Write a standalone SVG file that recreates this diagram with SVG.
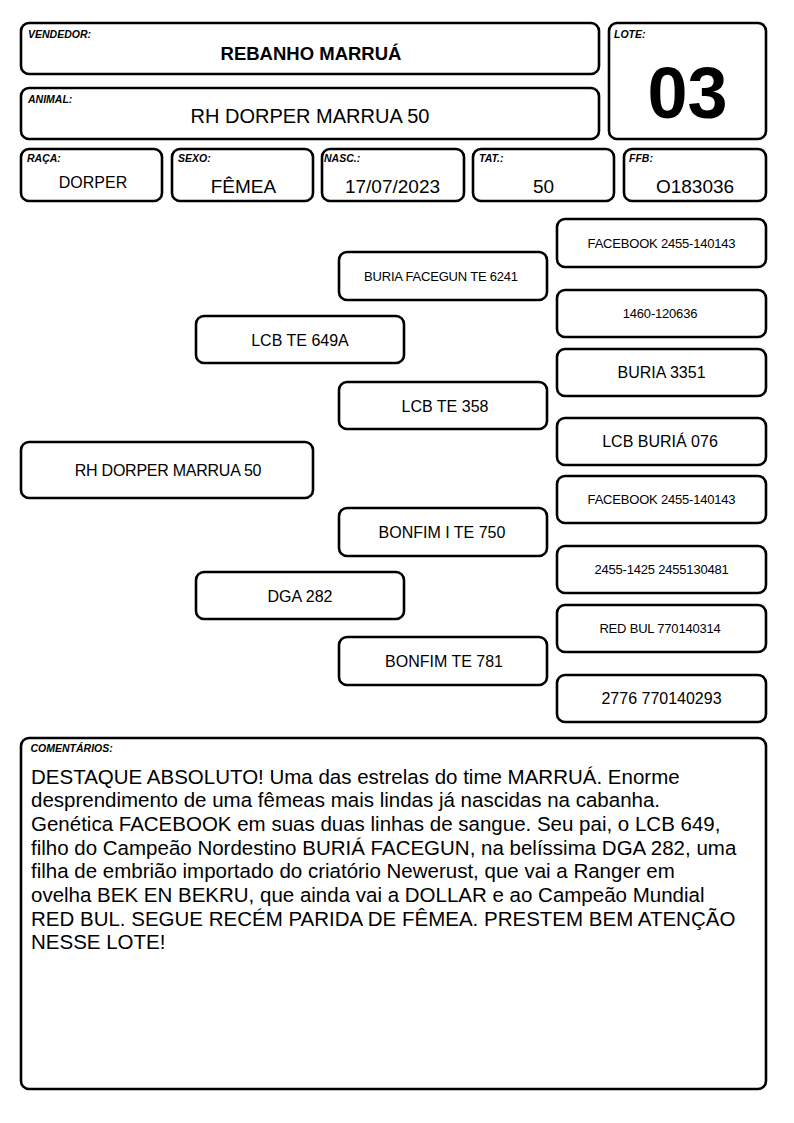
<svg xmlns="http://www.w3.org/2000/svg" width="794" height="1123" viewBox="0 0 794 1123">
<style>
.b{fill:#fff;stroke:#000;stroke-width:2.6}
.lbl{font-family:"Liberation Sans",Arial,sans-serif;font-size:10.5px;font-weight:bold;font-style:italic;fill:#000}
.t{font-family:"Liberation Sans",Arial,sans-serif;fill:#000;text-anchor:middle}
.p16{font-size:16px}
.p13{font-size:13px;letter-spacing:-0.2px}
.v19{font-size:19px}
.c{font-family:"Liberation Sans",Arial,sans-serif;font-size:20.5px;fill:#000}
</style>
<rect width="794" height="1123" fill="#fff"/>
<g id="vendedor"><rect class="b" x="21" y="23" width="578" height="51" rx="8"/><text class="lbl" x="28" y="38">VENDEDOR:</text><text class="t" x="311" y="60" font-size="18.5" font-weight="bold">REBANHO MARRUÁ</text></g>
<g id="lote"><rect class="b" x="609" y="23" width="157" height="116" rx="8"/><text class="lbl" x="614" y="38">LOTE:</text><text class="t" x="687.5" y="118" font-size="72" font-weight="bold">03</text></g>
<g id="animal"><rect class="b" x="21" y="88" width="578" height="51" rx="8"/><text class="lbl" x="28" y="102.5">ANIMAL:</text><text class="t" x="310" y="123" font-size="20">RH DORPER MARRUA 50</text></g>
<g id="raca"><rect class="b" x="21" y="149" width="141" height="52" rx="8"/><text class="lbl" x="27" y="162">RAÇA:</text><text class="t p16" x="93" y="188">DORPER</text></g>
<g id="sexo"><rect class="b" x="172" y="149" width="141" height="52" rx="8"/><text class="lbl" x="178" y="162">SEXO:</text><text class="t v19" x="243.5" y="193">FÊMEA</text></g>
<g id="nasc"><rect class="b" x="322" y="149" width="142" height="52" rx="8"/><text class="lbl" x="324" y="162">NASC.:</text><text class="t v19" x="392.5" y="193">17/07/2023</text></g>
<g id="tat"><rect class="b" x="473" y="149" width="141" height="52" rx="8"/><text class="lbl" x="479" y="162">TAT.:</text><text class="t v19" x="543.5" y="193">50</text></g>
<g id="ffb"><rect class="b" x="624" y="149" width="142" height="52" rx="8"/><text class="lbl" x="629" y="162">FFB:</text><text class="t v19" x="695" y="193">O183036</text></g>
<g id="connectors"></g>
<g id="animal-ped"><rect class="b" x="21" y="442" width="292" height="56" rx="8"/><text class="t p16" x="168" y="476" letter-spacing="-0.25">RH DORPER MARRUA 50</text></g>
<g id="pai"><rect class="b" x="196" y="316" width="208" height="47" rx="8"/><text class="t p16" x="300" y="345.5">LCB TE 649A</text></g>
<g id="mae"><rect class="b" x="196" y="572" width="208" height="47" rx="8"/><text class="t p16" x="300" y="601.5">DGA 282</text></g>
<g id="avo-pp"><rect class="b" x="339" y="252" width="208" height="48" rx="8"/><text class="t p13" x="441" y="280.5">BURIA FACEGUN TE 6241</text></g>
<g id="avo-pm"><rect class="b" x="339" y="382" width="208" height="47" rx="8"/><text class="t p16" x="445" y="411.5">LCB TE 358</text></g>
<g id="avo-mp"><rect class="b" x="339" y="508" width="208" height="48" rx="8"/><text class="t p16" x="442" y="538">BONFIM I TE 750</text></g>
<g id="avo-mm"><rect class="b" x="339" y="637" width="208" height="48" rx="8"/><text class="t p16" x="444" y="666.5">BONFIM TE 781</text></g>
<g id="bis1"><rect class="b" x="557" y="219" width="209" height="48" rx="8"/><text class="t p13" x="661.5" y="247.5">FACEBOOK 2455-140143</text></g>
<g id="bis2"><rect class="b" x="557" y="290" width="209" height="47" rx="8"/><text class="t p13" x="660" y="318">1460-120636</text></g>
<g id="bis3"><rect class="b" x="557" y="349" width="209" height="47" rx="8"/><text class="t p16" x="661.5" y="377.5">BURIA 3351</text></g>
<g id="bis4"><rect class="b" x="557" y="418" width="209" height="47" rx="8"/><text class="t p16" x="660" y="446.5">LCB BURIÁ 076</text></g>
<g id="bis5"><rect class="b" x="557" y="476" width="209" height="47" rx="8"/><text class="t p13" x="661.5" y="504">FACEBOOK 2455-140143</text></g>
<g id="bis6"><rect class="b" x="557" y="546" width="209" height="47" rx="8"/><text class="t p13" x="661.5" y="574">2455-1425 2455130481</text></g>
<g id="bis7"><rect class="b" x="557" y="605" width="209" height="47" rx="8"/><text class="t p13" x="660" y="633">RED BUL 770140314</text></g>
<g id="bis8"><rect class="b" x="557" y="675" width="209" height="47" rx="8"/><text class="t p16" x="661.5" y="703.5">2776 770140293</text></g>
<g id="comentarios"><rect class="b" x="21" y="738" width="745" height="351" rx="8"/><text class="lbl" x="30.5" y="752">COMENTÁRIOS:</text>
<text class="c" x="31" y="783.5">DESTAQUE ABSOLUTO! Uma das estrelas do time MARRUÁ. Enorme</text>
<text class="c" x="31" y="807.2">desprendimento de uma fêmeas mais lindas já nascidas na cabanha.</text>
<text class="c" x="31" y="830.9">Genética FACEBOOK em suas duas linhas de sangue. Seu pai, o LCB 649,</text>
<text class="c" x="31" y="854.6">filho do Campeão Nordestino BURIÁ FACEGUN, na belíssima DGA 282, uma</text>
<text class="c" x="31" y="878.3">filha de embrião importado do criatório Newerust, que vai a Ranger em</text>
<text class="c" x="31" y="902">ovelha BEK EN BEKRU, que ainda vai a DOLLAR e ao Campeão Mundial</text>
<text class="c" x="31" y="925.7">RED BUL. SEGUE RECÉM PARIDA DE FÊMEA. PRESTEM BEM ATENÇÃO</text>
<text class="c" x="31" y="949.4">NESSE LOTE!</text>
</g>
</svg>
